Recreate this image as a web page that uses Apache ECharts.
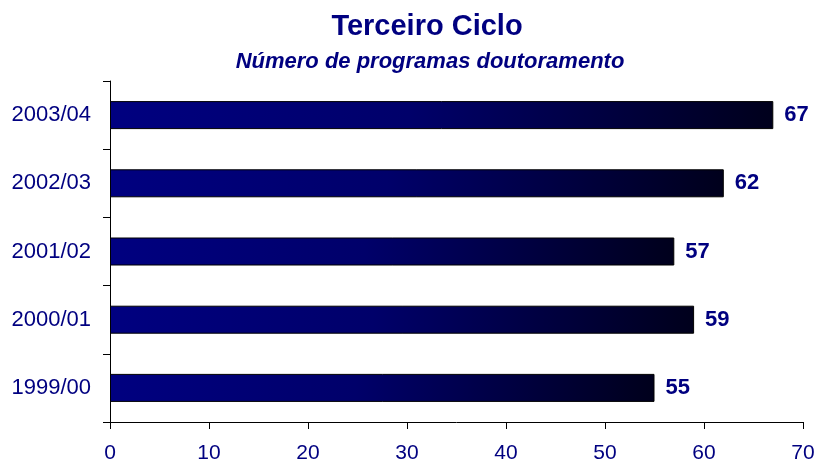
<!DOCTYPE html>
<html>
<head>
<meta charset="utf-8">
<script src="https://cdn.jsdelivr.net/npm/echarts@6/dist/echarts.min.js"></script>
<style>
  html, body { margin: 0; padding: 0; background: #fff; }
  #main { width: 818px; height: 464px; }
</style>
</head>
<body>
<div id="main"></div>
<script>
// categorias (de baixo para cima)
var categories = ['1999/00', '2000/01', '2001/02', '2002/03', '2003/04'];
// número de programas
var programas = [55, 59, 57, 62, 67];
// eixo x
var xMin = 0, xMax = 70, xStep = 10;

var navy = '#000080';
var myChart = echarts.init(document.getElementById('main'));

var option = {
    animation: false,
    title: [
        {
            text: 'Terceiro Ciclo',
            left: 422, top: 7, textAlign: 'center',
            textStyle: { color: navy, fontFamily: 'Liberation Sans', fontSize: 29, fontWeight: 'bold' }
        },
        {
            text: 'Número de programas doutoramento',
            left: 425, top: 46, textAlign: 'center',
            textStyle: { color: navy, fontFamily: 'Liberation Sans', fontSize: 22, fontWeight: 'bold', fontStyle: 'italic' }
        }
    ],
    grid: { left: 110, right: 15, top: 81, bottom: 41 },
    xAxis: {
        type: 'value',
        min: xMin, max: xMax, interval: xStep,
        axisLine: { show: true, lineStyle: { color: '#000', width: 1 } },
        axisTick: { show: true, length: 7, lineStyle: { color: '#000' } },
        splitLine: { show: false },
        axisLabel: { color: navy, fontFamily: 'Liberation Sans', fontSize: 21, margin: 21 }
    },
    yAxis: {
        type: 'category',
        data: categories,
        axisLine: { show: true, lineStyle: { color: '#000', width: 1 } },
        axisTick: { show: true, length: 7, lineStyle: { color: '#000' } },
        axisLabel: { color: navy, fontFamily: 'Liberation Sans', fontSize: 22, margin: 19 }
    },
    series: [{
        type: 'bar',
        data: programas,
        barWidth: 28,
        itemStyle: {
            color: new echarts.graphic.LinearGradient(0, 0, 1, 0, [
                { offset: 0, color: '#000080' },
                { offset: 0.45, color: '#00006a' },
                { offset: 1, color: '#00001c' }
            ]),
            borderColor: '#000',
            borderWidth: 1
        },
        label: {
            show: true,
            position: 'right',
            distance: 11,
            color: navy,
            fontFamily: 'Liberation Sans',
            fontSize: 22,
            fontWeight: 'bold'
        }
    }]
};
myChart.setOption(option);
</script>
</body>
</html>
